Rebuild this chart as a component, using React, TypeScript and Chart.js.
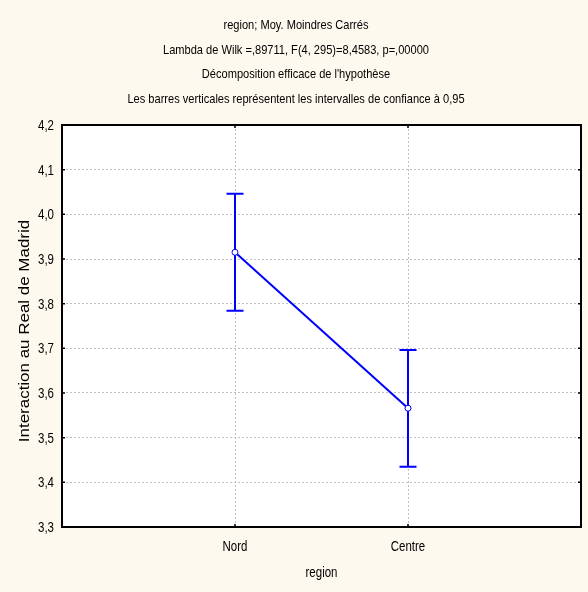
import React, { useEffect, useRef } from 'react';
import { Chart, registerables } from 'chart.js';

Chart.register(...registerables);

const titleLines = [
  'region; Moy. Moindres Carrés',
  'Lambda de Wilk =,89711, F(4, 295)=8,4583, p=,00000',
  "Décomposition efficace de l'hypothèse",
  'Les barres verticales représentent les intervalles de confiance à 0,95',
];
const xTitle = 'region';
const yTitle = 'Interaction au Real de Madrid';

const categories = ['Nord', 'Centre'];
const means = [3.915, 3.566];
const lowerCI = [3.784, 3.435];
const upperCI = [4.046, 3.696];
const yTicks = [3.3, 3.4, 3.5, 3.6, 3.7, 3.8, 3.9, 4.0, 4.1, 4.2];

const SANS = "'Liberation Sans', Arial, sans-serif";
const BLUE = '#0000ff';
const CREAM = '#fdf9ee';
const NARROW_X = 0.82;

const fmt = (v: number) => v.toFixed(1).replace('.', ',');

function drawText(
  ctx: CanvasRenderingContext2D,
  text: string,
  x: number,
  y: number,
  size: number,
  align: CanvasTextAlign,
  sx: number,
  rotate = false
) {
  ctx.save();
  ctx.translate(x, y);
  if (rotate) ctx.rotate(-Math.PI / 2);
  ctx.scale(sx, 1);
  ctx.font = `${size}px ${SANS}`;
  ctx.textAlign = align;
  ctx.textBaseline = 'middle';
  ctx.fillStyle = '#000000';
  ctx.fillText(text, 0, 0);
  ctx.restore();
}

const bgPlugin = {
  id: 'bgPlugin',
  beforeDraw(chart: any) {
    const { ctx, chartArea } = chart;
    ctx.save();
    ctx.fillStyle = CREAM;
    ctx.fillRect(0, 0, chart.width, chart.height);
    ctx.fillStyle = '#ffffff';
    ctx.fillRect(chartArea.left, chartArea.top, chartArea.right - chartArea.left, chartArea.bottom - chartArea.top);
    ctx.restore();
  },
};

const errorBarPlugin = {
  id: 'errorBarPlugin',
  beforeDatasetsDraw(chart: any) {
    const { ctx } = chart;
    const x = chart.scales.x;
    const y = chart.scales.y;
    ctx.save();
    ctx.strokeStyle = BLUE;
    ctx.lineWidth = 2;
    categories.forEach((_, i) => {
      const px = x.getPixelForValue(i + 1);
      const yl = y.getPixelForValue(lowerCI[i]);
      const yu = y.getPixelForValue(upperCI[i]);
      const cap = 8.5;
      ctx.beginPath();
      ctx.moveTo(px, yl);
      ctx.lineTo(px, yu);
      ctx.moveTo(px - cap, yu);
      ctx.lineTo(px + cap, yu);
      ctx.moveTo(px - cap, yl);
      ctx.lineTo(px + cap, yl);
      ctx.stroke();
    });
    ctx.restore();
  },
};

const framePlugin = {
  id: 'framePlugin',
  afterDraw(chart: any) {
    const { ctx, chartArea } = chart;
    const { left, top, right, bottom } = chartArea;
    const x = chart.scales.x;
    const y = chart.scales.y;
    ctx.save();
    ctx.strokeStyle = '#000000';
    ctx.lineWidth = 1.5;
    ctx.beginPath();
    yTicks.forEach((v) => {
      const py = y.getPixelForValue(v);
      ctx.moveTo(left, py);
      ctx.lineTo(left + 3, py);
      ctx.moveTo(right, py);
      ctx.lineTo(right - 3, py);
    });
    categories.forEach((_, i) => {
      const px = x.getPixelForValue(i + 1);
      ctx.moveTo(px, bottom);
      ctx.lineTo(px, bottom - 3);
      ctx.moveTo(px, top);
      ctx.lineTo(px, top + 3);
    });
    ctx.stroke();
    ctx.lineWidth = 2;
    ctx.strokeRect(left, top, right - left, bottom - top);
    ctx.restore();

    // titles
    titleLines.forEach((line, i) => {
      drawText(ctx, line, 296, 25.5 + i * 24.5, 13.5, 'center', NARROW_X);
    });
    // y tick labels
    yTicks.forEach((v) => {
      drawText(ctx, fmt(v), left - 8, y.getPixelForValue(v) + 1, 14, 'right', NARROW_X);
    });
    // x tick labels
    categories.forEach((c, i) => {
      drawText(ctx, c, x.getPixelForValue(i + 1), bottom + 20, 14, 'center', NARROW_X);
    });
    // axis titles
    drawText(ctx, xTitle, (left + right) / 2, 573.5, 14, 'center', NARROW_X);
    drawText(ctx, yTitle, 25, 331, 15, 'center', 1.13, true);
  },
};

export default function App() {
  const canvasRef = useRef<HTMLCanvasElement | null>(null);

  useEffect(() => {
    const canvas = canvasRef.current;
    if (!canvas) return;
    const chart = new Chart(canvas, {
      type: 'line',
      data: {
        datasets: [
          {
            label: yTitle,
            data: categories.map((_, i) => ({ x: i + 1, y: means[i] })),
            borderColor: BLUE,
            borderWidth: 2,
            backgroundColor: '#ffffff',
            pointRadius: 3,
            pointBorderWidth: 1,
            pointBackgroundColor: '#ffffff',
            pointBorderColor: BLUE,
            tension: 0,
            fill: false,
          },
        ],
      },
      options: {
        responsive: false,
        animation: false,
        devicePixelRatio: 1,
        layout: { padding: { top: 125, right: 7, left: 0, bottom: 0 } },
        plugins: {
          legend: { display: false },
          tooltip: { enabled: false },
          title: { display: false },
        },
        scales: {
          x: {
            type: 'linear',
            min: 0,
            max: 3,
            afterBuildTicks: (scale: any) => {
              scale.ticks = categories.map((_, i) => ({ value: i + 1 }));
            },
            afterFit: (scale: any) => {
              scale.height = 65;
            },
            ticks: { display: false, autoSkip: false },
            grid: { color: '#c0c0c0', lineWidth: 1, drawTicks: false },
            border: { display: false, dash: [2, 2] },
          },
          y: {
            type: 'linear',
            min: 3.3,
            max: 4.2,
            afterBuildTicks: (scale: any) => {
              scale.ticks = yTicks.map((v) => ({ value: v }));
            },
            afterFit: (scale: any) => {
              scale.width = 62;
            },
            ticks: { display: false, autoSkip: false },
            grid: { color: '#c0c0c0', lineWidth: 1, drawTicks: false },
            border: { display: false, dash: [2, 2] },
          },
        },
      },
      plugins: [bgPlugin, errorBarPlugin, framePlugin],
    } as any);
    return () => chart.destroy();
  }, []);

  return (
    <div style={{ position: 'absolute', left: 0, top: 0, width: 588, height: 592, background: CREAM }}>
      <canvas ref={canvasRef} width={588} height={592} style={{ display: 'block', width: 588, height: 592 }} />
    </div>
  );
}
